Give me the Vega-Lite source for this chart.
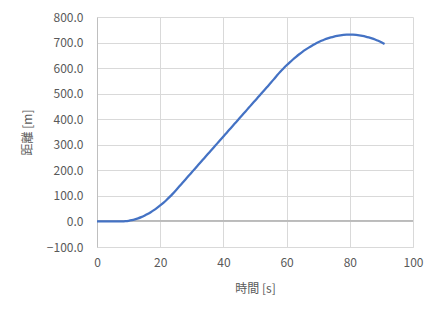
{
  "$schema": "https://vega.github.io/schema/vega-lite/v6.json",
  "autosize": "none",
  "width": 316,
  "height": 230,
  "padding": {"left": 97, "top": 17, "right": 27, "bottom": 72},
  "background": "white",
  "config": {
    "view": {"stroke": null},
    "font": "Noto Sans CJK JP",
    "axis": {
      "labelFont": "Noto Sans CJK JP",
      "labelFontSize": 12,
      "labelColor": "#595959",
      "titleFont": "Noto Sans CJK JP",
      "titleFontSize": 12,
      "titleFontWeight": "normal",
      "titleColor": "#595959",
      "gridColor": "#d9d9d9",
      "gridWidth": 1,
      "ticks": false
    }
  },
  "data": {
    "values": [
      {"t": 0, "d": 0}, {"t": 1, "d": 0}, {"t": 2, "d": 0}, {"t": 3, "d": 0},
      {"t": 4, "d": 0}, {"t": 5, "d": 0}, {"t": 6, "d": 0}, {"t": 7, "d": 0},
      {"t": 8, "d": 0.1}, {"t": 9, "d": 0.9}, {"t": 10, "d": 2.5}, {"t": 11, "d": 4.9},
      {"t": 12, "d": 8.1}, {"t": 13, "d": 12.1}, {"t": 14, "d": 16.9}, {"t": 15, "d": 22.5},
      {"t": 16, "d": 28.9}, {"t": 17, "d": 36.1}, {"t": 18, "d": 44.1}, {"t": 19, "d": 52.9},
      {"t": 20, "d": 62.5}, {"t": 21, "d": 72.9}, {"t": 22, "d": 84.1}, {"t": 23, "d": 96.1},
      {"t": 24, "d": 108.9}, {"t": 25, "d": 122.5}, {"t": 26, "d": 136.5}, {"t": 27, "d": 150.5},
      {"t": 28, "d": 164.5}, {"t": 29, "d": 178.5}, {"t": 30, "d": 192.5}, {"t": 31, "d": 206.5},
      {"t": 32, "d": 220.5}, {"t": 33, "d": 234.5}, {"t": 34, "d": 248.5}, {"t": 35, "d": 262.5},
      {"t": 36, "d": 276.5}, {"t": 37, "d": 290.5}, {"t": 38, "d": 304.5}, {"t": 39, "d": 318.5},
      {"t": 40, "d": 332.5}, {"t": 41, "d": 346.5}, {"t": 42, "d": 360.5}, {"t": 43, "d": 374.5},
      {"t": 44, "d": 388.5}, {"t": 45, "d": 402.5}, {"t": 46, "d": 416.5}, {"t": 47, "d": 430.5},
      {"t": 48, "d": 444.5}, {"t": 49, "d": 458.5}, {"t": 50, "d": 472.5}, {"t": 51, "d": 486.5},
      {"t": 52, "d": 500.5}, {"t": 53, "d": 514.5}, {"t": 54, "d": 528.5}, {"t": 55, "d": 542.5},
      {"t": 56, "d": 557.0}, {"t": 57, "d": 572.0}, {"t": 58, "d": 585.8}, {"t": 59, "d": 598.7},
      {"t": 60, "d": 611.0}, {"t": 61, "d": 622.7}, {"t": 62, "d": 633.8}, {"t": 63, "d": 644.3},
      {"t": 64, "d": 654.2}, {"t": 65, "d": 663.5}, {"t": 66, "d": 672.2}, {"t": 67, "d": 680.3},
      {"t": 68, "d": 687.8}, {"t": 69, "d": 694.7}, {"t": 70, "d": 701.0}, {"t": 71, "d": 706.7},
      {"t": 72, "d": 711.8}, {"t": 73, "d": 716.3}, {"t": 74, "d": 720.2}, {"t": 75, "d": 723.5},
      {"t": 76, "d": 726.2}, {"t": 77, "d": 728.3}, {"t": 78, "d": 729.8}, {"t": 79, "d": 730.7},
      {"t": 80, "d": 731.0}, {"t": 81, "d": 730.7}, {"t": 82, "d": 729.8}, {"t": 83, "d": 728.3},
      {"t": 84, "d": 726.2}, {"t": 85, "d": 723.5}, {"t": 86, "d": 720.2}, {"t": 87, "d": 716.3},
      {"t": 88, "d": 711.8}, {"t": 89, "d": 706.7}, {"t": 90, "d": 701.0}, {"t": 91, "d": 694.7}
    ]
  },
  "encoding": {
    "x": {
      "field": "t", "type": "quantitative",
      "scale": {"domain": [0, 100], "nice": false, "zero": false},
      "axis": {
        "title": "時間 [s]",
        "values": [0, 20, 40, 60, 80, 100],
        "domain": true,
        "domainColor": "#d9d9d9",
        "labelOverlap": false,
        "labelFlush": false,
        "labelPadding": 10,
        "titlePadding": 15
      }
    },
    "y": {
      "field": "d", "type": "quantitative",
      "scale": {"domain": [-100, 800], "nice": false, "zero": false},
      "axis": {
        "title": "距離 [m]",
        "values": [-100, 0, 100, 200, 300, 400, 500, 600, 700, 800],
        "format": ".1f",
        "domain": true,
        "domainColor": "#bfbfbf",
        "labelOverlap": false,
        "labelFlush": false,
        "labelPadding": 14,
        "titlePadding": 12
      }
    }
  },
  "layer": [
    {
      "mark": {"type": "rule", "color": "#bfbfbf", "strokeWidth": 1},
      "encoding": {
        "x": {"value": 0},
        "x2": {"value": "width"},
        "y": {"datum": 0}
      }
    },
    {
      "mark": {"type": "line", "color": "#4472C4", "strokeWidth": 2.25, "interpolate": "monotone"}
    }
  ]
}
